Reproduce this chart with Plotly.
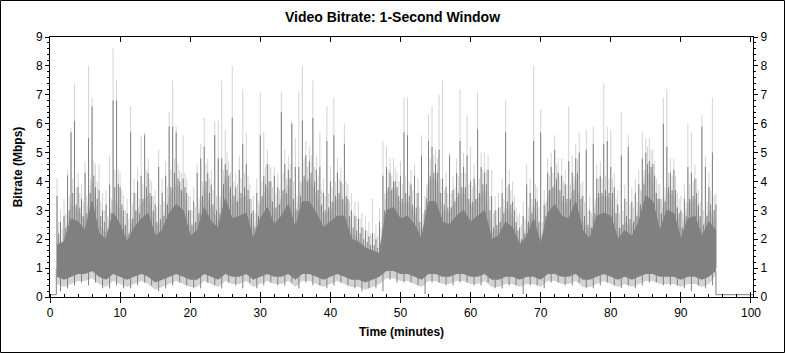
import plotly.graph_objects as go

# ---------------- data ----------------
minutes = list(range(1, 96))

# solid dark mass (per minute)
dark_top = [1.8,1.9,2.7,2.6,2.3, 3.3,2.2,2.0,2.9,2.5,
            1.9,2.4,2.7,2.9,2.1, 2.3,2.9,3.2,3.0,2.1,
            2.3,3.1,2.6,2.4,3.4, 2.7,2.8,2.9,2.0,2.7,
            3.1,2.5,2.8,3.2,2.4, 3.3,3.3,2.9,2.4,2.6,
            2.8,2.8,2.0,1.9,1.7, 1.6,1.5,3.0,3.1,2.7,
            2.8,2.5,2.0,3.3,3.3, 2.6,2.5,2.8,3.0,2.6,
            2.8,3.0,2.0,2.1,2.6, 2.4,1.8,2.1,2.7,1.8,
            2.9,3.2,2.8,2.7,3.3, 2.3,2.0,2.8,2.9,2.8,
            2.0,2.3,2.1,2.6,3.5, 3.3,2.3,3.0,2.9,2.0,
            2.7,2.8,2.1,2.6,2.3]

dark_lo = [0.7,0.6,0.7,0.8,0.8,0.9,0.7,0.6,0.8,0.7,
           0.6,0.7,0.8,0.7,0.5,0.6,0.7,0.8,0.7,0.6,
           0.6,0.8,0.7,0.6,0.8,0.7,0.7,0.8,0.6,0.7,
           0.8,0.7,0.7,0.8,0.6,0.8,0.8,0.7,0.6,0.7,
           0.8,0.7,0.6,0.6,0.5,0.6,0.7,0.9,0.9,0.8,
           0.8,0.7,0.6,0.8,0.8,0.7,0.7,0.8,0.8,0.7,
           0.7,0.8,0.6,0.6,0.7,0.7,0.6,0.7,0.7,0.6,
           0.8,0.8,0.7,0.7,0.8,0.6,0.6,0.7,0.8,0.7,
           0.6,0.7,0.6,0.7,0.8,0.8,0.7,0.7,0.7,0.6,
           0.7,0.7,0.6,0.7,0.9]

# light mass (per minute)
light_top = [1.8,2.0,3.2,3.0,2.6,4.0,2.5,2.2,3.4,3.0,
             2.0,2.8,3.2,3.5,2.4,2.6,3.5,3.9,3.6,2.3,
             2.6,3.8,3.0,2.7,4.2,3.2,3.4,3.5,2.2,3.2,
             3.8,2.9,3.4,3.9,2.8,4.0,4.1,3.5,2.8,3.0,
             3.4,3.3,2.2,2.0,1.7,1.6,1.5,3.6,3.8,3.2,
             3.3,2.9,2.2,4.0,4.1,3.0,2.9,3.4,3.6,3.1,
             3.4,3.7,2.2,2.4,3.1,2.8,1.8,2.4,3.2,1.9,
             3.5,3.9,3.3,3.2,4.1,2.6,2.2,3.4,3.5,3.4,
             2.2,2.6,2.4,3.0,4.4,4.0,2.7,3.6,3.5,2.2,
             3.2,3.4,2.3,3.0,2.6]

light_lo = [0.45,0.35,0.45,0.55,0.55,0.65,0.45,0.35,0.55,0.45,
            0.35,0.45,0.55,0.45,0.25,0.35,0.45,0.55,0.45,0.35,
            0.35,0.55,0.45,0.35,0.55,0.45,0.45,0.55,0.35,0.45,
            0.55,0.45,0.45,0.55,0.35,0.55,0.55,0.45,0.35,0.45,
            0.55,0.45,0.35,0.35,0.25,0.35,0.45,0.65,0.65,0.55,
            0.55,0.45,0.35,0.55,0.55,0.45,0.45,0.55,0.55,0.45,
            0.45,0.55,0.35,0.35,0.45,0.45,0.35,0.45,0.45,0.35,
            0.55,0.55,0.45,0.45,0.55,0.35,0.35,0.45,0.55,0.45,
            0.35,0.45,0.35,0.45,0.55,0.55,0.45,0.45,0.45,0.35,
            0.45,0.45,0.35,0.45,0.75]

# tall spikes, every half minute from 1.0 to 95.0
needle_t = [1.0 + 0.5 * k for k in range(189)]

dark_peak = [3.5,2.6, 2.8,4.2, 5.7,6.1, 3.8,3.4, 4.3,5.5,
             6.6,3.8, 3.7,3.0, 3.2,3.9, 6.8,6.8, 3.8,3.0,
             2.9,5.7, 3.6,4.0, 4.2,5.6, 4.3,3.5, 3.2,4.5,
             3.6,4.2, 5.9,5.9, 5.7,4.0, 4.1,3.6, 3.0,3.3,
             4.3,4.8, 5.2,4.3, 3.9,5.6, 4.8,4.8, 4.6,4.2,
             6.2,3.8, 4.4,5.3, 4.6,3.4, 3.0,3.6, 5.6,4.2,
             4.6,4.0, 4.2,3.8, 6.4,4.6, 4.4,6.0, 4.5,4.5,
             6.1,4.9, 4.7,6.2, 4.4,4.5, 3.6,5.4, 4.0,5.6,
             4.3,4.0, 5.3,3.4, 3.0,2.8, 2.7,2.4, 2.3,2.1,
             2.2,2.0, 2.6,4.2, 4.5,4.3, 4.0,3.8, 4.2,5.7,
             5.6,3.9, 4.2,3.6, 4.9,3.0, 5.4,5.2, 4.6,5.1,
             4.1,3.8, 4.9,3.7, 4.3,5.4, 4.5,4.9, 4.0,4.1,
             5.8,4.5, 4.3,4.4, 3.5,3.0, 3.1,3.6, 5.7,3.9,
             3.3,2.6, 2.4,2.8, 3.9,3.6, 5.4,3.3, 5.7,3.2,
             4.3,4.5, 5.1,4.3, 4.2,3.9, 4.7,4.3, 4.8,5.0,
             3.5,5.1, 3.0,5.3, 4.1,4.2, 5.3,5.4, 4.5,3.8,
             3.2,4.9, 3.4,5.2, 3.3,3.6, 3.9,4.8, 5.0,4.7,
             4.6,3.6, 3.4,6.0, 5.2,4.3, 4.4,3.1, 3.0,3.4,
             4.5,4.3, 4.1,3.2, 5.9,4.5, 3.8,5.0, 3.2]

light_peak = [4.1,3.0, 3.4,4.4, 5.85,7.4, 4.3,3.9, 4.7,8.0,
              6.9,4.6, 4.6,3.6, 3.7,4.9, 8.6,7.5, 4.3,3.5,
              3.4,6.6, 4.1,4.5, 5.6,5.7, 4.8,4.0, 3.7,5.1,
              4.1,4.7, 6.4,7.5, 5.9,4.4, 5.6,4.1, 3.5,3.8,
              4.6,5.3, 6.2,4.8, 4.4,6.1, 6.1,7.5, 5.8,4.7,
              8.0,4.3, 4.9,7.2, 5.7,3.9, 3.5,4.1, 7.1,5.7,
              5.1,4.5, 4.5,4.3, 7.1,5.1, 4.9,6.1, 5.5,7.1,
              8.0,5.4, 5.2,7.5, 4.9,5.7, 4.1,6.6, 4.5,6.9,
              4.8,4.5, 6.0,3.9, 3.6,3.3, 3.3,2.9, 2.8,2.6,
              3.4,2.5, 3.1,5.4, 5.2,4.8, 4.8,4.3, 4.7,6.9,
              6.9,4.4, 4.6,4.1, 5.6,3.5, 6.3,6.6, 5.1,7.0,
              7.5,4.3, 5.0,4.2, 4.8,7.2, 5.0,6.3, 5.2,4.6,
              7.1,5.0, 5.0,4.9, 4.4,3.5, 3.6,4.1, 6.8,4.4,
              4.0,3.1, 2.9,3.3, 4.6,4.1, 8.0,3.8, 6.5,3.7,
              4.8,5.0, 5.6,4.8, 4.8,4.4, 6.6,4.9, 5.3,5.7,
              4.0,5.8, 3.5,5.9, 4.6,4.7, 7.4,5.9, 5.8,4.3,
              3.7,6.4, 3.9,5.6, 3.8,4.1, 4.4,5.7, 5.5,5.5,
              5.1,4.1, 3.9,6.9, 7.2,4.8, 4.8,3.6, 3.5,3.9,
              6.0,5.7, 4.6,3.7, 6.3,4.9, 4.3,6.9, 3.6]

# shorter "hair", every half minute from 1.25 to 94.75
hair_t = [1.25 + 0.5 * k for k in range(188)]

dark_hair = [2.2,1.9, 2.4,3.0, 3.6,3.2, 3.1,2.8, 2.9,3.6,
             4.2,3.4, 2.8,2.6, 2.3,2.9, 3.8,3.9, 3.2,2.5,
             2.2,2.7, 3.0,2.9, 3.4,3.8, 3.6,3.0, 2.6,2.7,
             2.8,3.2, 3.8,4.3, 4.1,3.7, 3.8,3.0, 2.5,2.6,
             2.9,3.5, 4.0,3.6, 3.2,3.0, 2.9,3.9, 4.4,3.8,
             3.5,3.3, 3.6,3.8, 3.7,2.9, 2.4,2.8, 3.5,3.9,
             4.0,3.3, 3.1,3.2, 3.7,3.6, 4.1,3.4, 3.0,3.5,
             4.2,4.0, 4.3,4.0, 3.7,3.2, 3.0,3.1, 3.3,3.5,
             3.6,3.4, 3.5,2.8, 2.4,2.3, 2.2,2.0, 1.9,1.8,
             1.8,1.7, 1.9,3.0, 3.8,3.7, 4.0,3.5, 3.4,3.6,
             3.5,3.2, 3.1,2.6, 2.4,3.4, 4.2,4.3, 4.3,3.6,
             3.2,3.1, 3.1,3.3, 3.6,3.8, 3.8,3.4, 3.3,3.4,
             3.6,3.9, 3.9,3.0, 2.4,2.5, 2.6,2.9, 3.3,3.2,
             3.0,2.3, 2.0,2.2, 2.6,2.9, 3.4,2.6, 2.1,2.8,
             3.7,3.8, 4.1,3.7, 3.5,3.4, 3.4,3.7, 4.3,3.4,
             2.8,2.5, 2.4,2.9, 3.6,3.6, 3.7,3.6, 3.6,2.9,
             2.4,2.5, 2.8,2.7, 2.6,2.8, 3.2,3.9, 4.6,4.5,
             4.2,3.4, 2.9,3.3, 3.8,3.7, 3.7,2.9, 2.4,2.8,
             3.4,3.5, 3.6,2.8, 2.5,2.8, 3.2,3.0]

light_hair = [2.6,2.4, 2.9,3.5, 4.1,3.8, 3.6,3.3, 3.5,4.1,
              4.7,4.0, 3.3,3.0, 2.8,3.4, 4.4,4.4, 3.7,3.0,
              2.7,3.2, 3.6,3.4, 3.9,4.4, 4.1,3.5, 3.1,3.2,
              3.3,3.8, 4.4,4.8, 4.6,4.3, 4.3,3.5, 3.0,3.1,
              3.4,4.0, 4.6,4.1, 3.7,3.5, 3.5,4.4, 5.0,4.3,
              4.0,3.9, 4.1,4.3, 4.2,3.4, 2.9,3.3, 4.0,4.5,
              4.6,3.8, 3.6,3.7, 4.3,4.1, 4.6,4.0, 3.5,4.0,
              4.8,4.5, 4.9,4.5, 4.2,3.7, 3.5,3.6, 3.8,4.0,
              4.1,3.9, 4.0,3.3, 2.9,2.8, 2.7,2.4, 2.3,2.2,
              2.2,2.1, 2.4,3.6, 4.4,4.2, 4.5,4.0, 3.9,4.2,
              4.0,3.7, 3.6,3.1, 2.9,3.9, 4.8,4.9, 4.8,4.1,
              3.7,3.6, 3.6,3.8, 4.2,4.3, 4.3,3.9, 3.8,3.9,
              4.1,4.4, 4.4,3.5, 2.9,3.0, 3.1,3.4, 3.8,3.7,
              3.5,2.8, 2.5,2.7, 3.1,3.4, 3.9,3.1, 2.6,3.3,
              4.2,4.3, 4.6,4.2, 4.0,3.9, 3.9,4.2, 4.8,3.9,
              3.3,3.0, 2.9,3.4, 4.1,4.1, 4.2,4.1, 4.1,3.4,
              2.9,3.0, 3.3,3.2, 3.1,3.3, 3.7,4.4, 5.2,5.1,
              4.7,3.9, 3.4,3.8, 4.3,4.2, 4.2,3.4, 2.9,3.3,
              3.9,4.0, 4.1,3.3, 3.0,3.3, 3.7,3.5]

# downward dips of the dark series, at 1.5, 2.5, ... 94.5
dip_t = [m + 0.5 for m in range(1, 95)]
dark_dip = [0.2,0.3,0.4,0.5,0.4,0.5,0.3,0.3,0.4,0.3,
            0.3,0.4,0.5,0.4,0.2,0.3,0.4,0.5,0.4,0.3,
            0.3,0.5,0.4,0.3,0.5,0.4,0.3,0.5,0.3,0.4,
            0.5,0.4,0.4,0.5,0.3,0.5,0.4,0.4,0.3,0.4,
            0.5,0.4,0.3,0.2,0.3,0.3,0.2,0.6,0.5,0.5,
            0.5,0.4,0.1,0.5,0.5,0.4,0.4,0.5,0.5,0.4,
            0.4,0.5,0.3,0.3,0.4,0.4,0.1,0.4,0.4,0.3,
            0.5,0.5,0.4,0.4,0.5,0.3,0.3,0.4,0.5,0.4,
            0.3,0.4,0.3,0.4,0.5,0.5,0.4,0.4,0.4,0.3,
            0.2,0.4,0.3,0.4]

start_t = [0.0, 0.9, 0.9]
start_v = [0.08, 0.08, 1.0]
end_t = [95.0, 95.0, 100.29]
end_v = [0.9, 0.08, 0.08]

x_ticks = list(range(0, 101, 10))
y_ticks = list(range(0, 10))

LIGHT = "#d3d3d3"
DARK = "#808080"
FONT = "Liberation Sans, Arial, sans-serif"


def needles(ts, vs, base):
    xs, ys = [], []
    for t, v in zip(ts, vs):
        xs += [t, t, None]
        ys += [base, v, None]
    return xs, ys


def line_trace(xs, ys, color, **kw):
    return go.Scatter(x=xs, y=ys, mode="lines", line=dict(color=color, width=1),
                      hoverinfo="skip", **kw)


fig = go.Figure()

# light series
fig.add_trace(go.Scatter(x=minutes, y=light_lo, mode="lines",
                         line=dict(color=LIGHT, width=0), hoverinfo="skip"))
fig.add_trace(go.Scatter(x=minutes, y=light_top, mode="lines", fill="tonexty",
                         fillcolor=LIGHT, line=dict(color=LIGHT, width=1), hoverinfo="skip"))
fig.add_trace(line_trace(*needles(needle_t, light_peak, 1.0), LIGHT))
fig.add_trace(line_trace(*needles(hair_t, light_hair, 1.0), LIGHT))

# dark series
fig.add_trace(go.Scatter(x=minutes, y=dark_lo, mode="lines",
                         line=dict(color=DARK, width=0), hoverinfo="skip"))
fig.add_trace(go.Scatter(x=minutes, y=dark_top, mode="lines", fill="tonexty",
                         fillcolor=DARK, line=dict(color=DARK, width=1), hoverinfo="skip"))
fig.add_trace(line_trace(*needles(needle_t, dark_peak, 1.0), DARK))
fig.add_trace(line_trace(*needles(hair_t, dark_hair, 1.0), DARK))
fig.add_trace(line_trace(*needles(dip_t, dark_dip, 1.0), DARK))

fig.add_trace(line_trace(start_t, start_v, DARK))
fig.add_trace(line_trace(end_t, end_v, DARK, xaxis="x2", yaxis="y2"))

XR = [0, 100.29]
YR = [0, 9]
tickfont = dict(family=FONT, size=12, color="black")

fig.update_layout(
    width=785, height=353,
    margin=dict(l=50, r=32, t=37, b=56),
    paper_bgcolor="white", plot_bgcolor="white",
    showlegend=False,
    title=dict(text="<b>Video Bitrate: 1-Second Window</b>", x=0.5, xanchor="center",
               y=1 - 17 / 353, yanchor="middle",
               font=dict(family=FONT, size=14, color="black")),
    xaxis=dict(range=XR, tickvals=x_ticks, ticks="outside", ticklen=5, tickcolor="black",
               showline=True, linecolor="black", linewidth=1, mirror=True,
               showgrid=False, zeroline=False, tickfont=tickfont,
               minor=dict(ticks="inside", ticklen=3, dtick=2, tick0=0, tickcolor="black", showgrid=False),
               title=dict(text="<b>Time (minutes)</b>", standoff=8,
                          font=dict(family=FONT, size=12, color="black"))),
    xaxis2=dict(range=XR, overlaying="x", anchor="y", side="bottom", tickvals=x_ticks,
                ticks="inside", ticklen=5, tickcolor="black", showticklabels=False,
                showline=False, showgrid=False, zeroline=False, mirror="ticks"),
    yaxis=dict(range=YR, tickvals=y_ticks, ticks="outside", ticklen=4, tickcolor="black",
               showline=True, linecolor="black", linewidth=1,
               showgrid=False, zeroline=False, tickfont=tickfont,
               minor=dict(ticks="outside", ticklen=2, dtick=0.2, tick0=0, tickcolor="black", showgrid=False),
               title=dict(text="<b>Bitrate (Mbps)</b>", standoff=10,
                          font=dict(family=FONT, size=12, color="black"))),
    yaxis2=dict(range=YR, overlaying="y", anchor="x", side="right", tickvals=y_ticks,
                ticks="outside", ticklen=4, tickcolor="black", showline=True,
                linecolor="black", linewidth=1, showgrid=False, zeroline=False,
                tickfont=tickfont,
                minor=dict(ticks="outside", ticklen=2, dtick=0.2, tick0=0, tickcolor="black", showgrid=False)),
    yaxis3=dict(range=YR, overlaying="y", anchor="x", side="left", tickvals=y_ticks,
                ticks="inside", ticklen=4, tickcolor="black", showticklabels=False,
                showline=False, showgrid=False, zeroline=False,
                minor=dict(ticks="inside", ticklen=2, dtick=0.2, tick0=0, tickcolor="black")),
    yaxis4=dict(range=YR, overlaying="y", anchor="x", side="right", tickvals=y_ticks,
                ticks="inside", ticklen=4, tickcolor="black", showticklabels=False,
                showline=False, showgrid=False, zeroline=False,
                minor=dict(ticks="inside", ticklen=2, dtick=0.2, tick0=0, tickcolor="black")),
    shapes=[dict(type="rect", xref="paper", yref="paper",
                 x0=(0.5 - 50) / 703, x1=(784.5 - 50) / 703,
                 y0=(297 - 352.5) / 260, y1=(297 - 0.5) / 260,
                 line=dict(color="black", width=1), fillcolor="rgba(0,0,0,0)",
                 layer="above")],
)

fig.write_html("out.html")
